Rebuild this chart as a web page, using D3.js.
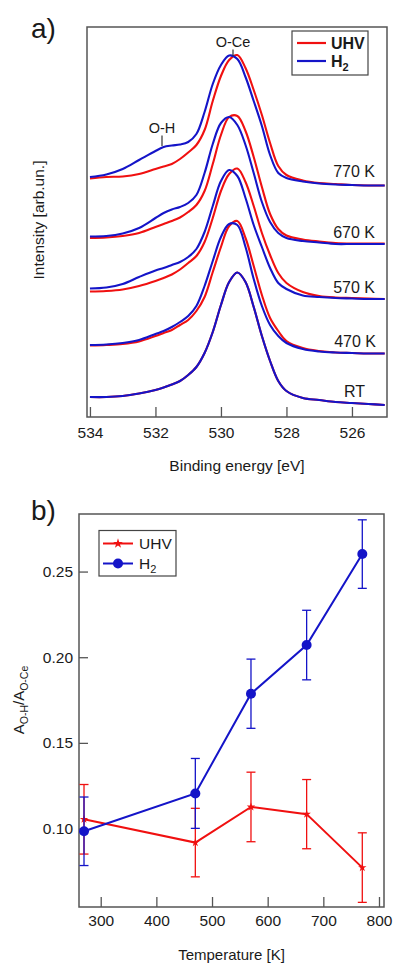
<!DOCTYPE html>
<html><head><meta charset="utf-8">
<script src="https://cdn.jsdelivr.net/npm/d3@7/dist/d3.min.js"></script>
<style>
body{margin:0;background:#fff}
svg{display:block}
text{font-family:Arial,"Liberation Sans",sans-serif;fill:#1a1a1a}
</style>
</head><body><svg id="c" width="393" height="965"></svg>
<script>
// ---------- Panel a) data : XPS O 1s spectra (stacked, arbitrary units) ----------
const energies = [534,533.5,533,532.5,532,531.75,531.5,531.25,531,530.75,530.5,530.25,530,529.75,529.5,529.25,529,528.75,528.5,528.25,528,527.5,527,526.5,526,525.5,525];
const spectrumLabels = ["770 K","670 K","570 K","470 K","RT"];
const uhv770 = [238.5,240,240.5,243,248,250.5,253,258,264.5,272,287,316,341,357,362,349,327,302,274,251,242,236.5,234,233,232,231.5,231.5];
const h2770  = [240,242.5,248,257,266,270,271.5,272.5,275,283,305,333,352,361.5,358,340,316,291,262,244,239,235.5,233.5,232.5,232,231.5,231.5];
const uhv670 = [179,179.5,181,184,190,193,196,199.5,205,212,226,253,282,300,301,286,260,230,203,188,181.5,177.5,175.5,174,173.5,173.5,173.5];
const h2670  = [180.5,181,183.5,189,199,204,207.5,210,214,222,244,273,294,300,292,272,244,215,195,184,179,176,174.5,173,173,173,173];
const uhv570 = [125.5,126,127.5,131,136,139,142.5,147.5,154,161,175,199,226,243,248.5,235,211,184,162,144,134,125,121,119.5,119,118.5,118];
const h2570  = [128.5,129.5,133,140,146.5,149,152,155,160,168,185,211,236,247,241,219,192,170,149,134,128,121.5,120,119,118.5,118,118];
const uhv470 = [71.5,72,73,75.5,81,84,87,92,97,106,120,145,170,191,196,179,151,122,99,86,76,69,66,64.5,64,63.5,63.5];
const h2470  = [72,72.5,74,77,83,86,90,95,101,111,131,156,180,193,192,170,138,111,92,81,74,68,65.5,64.5,64,63.5,63.5];
const uhvRT  = [20,20,21,23.5,27,29.5,32.5,36,42,50,64,85,112,135,144.5,135,110,81,56,36,26,19,17,15,14,13,12];
const h2RT   = [20,20,21,23.5,27,29.5,32.5,36,42,50,64,85,112,135,144.5,135,110,81,56,36,26,19,17,15,14,13,12];
const energyTicks = [534,532,530,528,526];

// ---------- Panel b) data : A(O-H)/A(O-Ce) ratio ----------
const temperatures = [270,470,570,670,770];
const uhvRatio = [0.1054,0.0918,0.1126,0.1084,0.0772];
const uhvErr   = [0.0203,0.0200,0.0203,0.0202,0.0203];
const h2Ratio  = [0.0984,0.1205,0.1787,0.2071,0.2602];
const h2Err    = [0.0200,0.0204,0.0202,0.0203,0.0200];
const tempTicks = [300,400,500,600,700,800];
const ratioTicks = [0.10,0.15,0.20,0.25];

const RED = "#f01010", BLUE = "#1414c8", FRAME = "#555";
const svg = d3.select("#c");

// ================= Panel a =================
const A = {l:87, r:387, t:27, b:417};
const xA = d3.scaleLinear().domain([534.09,524.93]).range([A.l, A.r]);
const yA = d3.scaleLinear().domain([0,390]).range([A.b, A.t]);

const gA = svg.append("g");
const spectra = [
  [uhv770,h2770],[uhv670,h2670],[uhv570,h2570],[uhv470,h2470],[uhvRT,h2RT]
];
const lineA = d3.line().x((d,i)=>xA(energies[i])).y(d=>yA(d)).curve(d3.curveCatmullRom.alpha(0.5));
spectra.forEach(([u,h])=>{
  gA.append("path").attr("d",lineA(u)).attr("fill","none").attr("stroke",RED).attr("stroke-width",2.1);
  gA.append("path").attr("d",lineA(h)).attr("fill","none").attr("stroke",BLUE).attr("stroke-width",2.1);
});

// x axis (ticks inward)
const axA = gA.append("g").attr("transform",`translate(0,${A.b})`)
  .call(d3.axisBottom(xA).tickValues(energyTicks).tickFormat(d3.format("d")).tickSize(-10).tickPadding(10));
axA.select(".domain").remove();
axA.selectAll(".tick line").attr("stroke",FRAME).attr("stroke-width",1.3);
axA.selectAll(".tick text").attr("font-size",15.5).attr("fill","#1a1a1a").attr("font-family","Arial, Liberation Sans, sans-serif");

gA.append("rect").attr("x",A.l).attr("y",A.t).attr("width",A.r-A.l).attr("height",A.b-A.t)
  .attr("fill","none").attr("stroke",FRAME).attr("stroke-width",1.5);

// temperature labels
const labelY = [177,238,293,347,397];
const labelX = [375,375,375,376,365];
spectrumLabels.forEach((s,i)=>{
  gA.append("text").attr("x",labelX[i]).attr("y",labelY[i]).attr("text-anchor","end").attr("font-size",16).text(s);
});

// peak annotations
gA.append("text").attr("x",233).attr("y",47).attr("text-anchor","middle").attr("font-size",14.5).text("O-Ce");
gA.append("line").attr("x1",233).attr("x2",233).attr("y1",49.5).attr("y2",56).attr("stroke","#333").attr("stroke-width",1.2);
gA.append("text").attr("x",162).attr("y",133).attr("text-anchor","middle").attr("font-size",14.5).text("O-H");
gA.append("line").attr("x1",162).attr("x2",162).attr("y1",135.5).attr("y2",146).attr("stroke","#333").attr("stroke-width",1.2);

// legend
gA.append("rect").attr("x",292).attr("y",31).attr("width",76).attr("height",44).attr("fill","#fff").attr("stroke","#444").attr("stroke-width",1.2);
gA.append("line").attr("x1",297).attr("x2",326).attr("y1",43).attr("y2",43).attr("stroke",RED).attr("stroke-width",2.2);
gA.append("line").attr("x1",297).attr("x2",326).attr("y1",61).attr("y2",61).attr("stroke",BLUE).attr("stroke-width",2.2);
gA.append("text").attr("x",331).attr("y",48.5).attr("font-size",16).attr("font-weight","bold").text("UHV");
const tH = gA.append("text").attr("x",331).attr("y",66.5).attr("font-size",16).attr("font-weight","bold");
tH.append("tspan").text("H");
tH.append("tspan").attr("dy",4).attr("font-size",11).text("2");

// axis titles
gA.append("text").attr("x",237).attr("y",471).attr("text-anchor","middle").attr("font-size",15.5).text("Binding energy [eV]");
gA.append("text").attr("transform","translate(43.5,220) rotate(-90)").attr("text-anchor","middle").attr("font-size",15.5).text("Intensity [arb.un.]");
svg.append("text").attr("x",31).attr("y",38).attr("font-size",28).text("a)");

// ================= Panel b =================
const B = {l:79, r:384, t:514, b:907};
const xB = d3.scaleLinear().domain([261,809]).range([B.l,B.r]);
const yB = d3.scaleLinear().domain([0.0542,0.2836]).range([B.b,B.t]);
const gB = svg.append("g");

const axBx = gB.append("g").attr("transform",`translate(0,${B.b})`)
  .call(d3.axisBottom(xB).tickValues(tempTicks).tickFormat(d3.format("d")).tickSize(-10).tickPadding(8));
const axBy = gB.append("g").attr("transform",`translate(${B.l},0)`)
  .call(d3.axisLeft(yB).tickValues(ratioTicks).tickFormat(d3.format(".2f")).tickSize(-9).tickPadding(6));
[axBx,axBy].forEach(a=>{
  a.select(".domain").remove();
  a.selectAll(".tick line").attr("stroke",FRAME).attr("stroke-width",1.3);
  a.selectAll(".tick text").attr("font-size",15.5).attr("fill","#1a1a1a").attr("font-family","Arial, Liberation Sans, sans-serif");
});

gB.append("rect").attr("x",B.l).attr("y",B.t).attr("width",B.r-B.l).attr("height",B.b-B.t)
  .attr("fill","none").attr("stroke",FRAME).attr("stroke-width",1.5);

function series(vals, errs, color, marker){
  const g = gB.append("g");
  const cap = 4.5;
  temperatures.forEach((t,i)=>{
    const x = xB(t), y1 = yB(vals[i]-errs[i]), y2 = yB(vals[i]+errs[i]);
    g.append("line").attr("x1",x).attr("x2",x).attr("y1",y1).attr("y2",y2).attr("stroke",color).attr("stroke-width",1.3);
    g.append("line").attr("x1",x-cap).attr("x2",x+cap).attr("y1",y1).attr("y2",y1).attr("stroke",color).attr("stroke-width",1.3);
    g.append("line").attr("x1",x-cap).attr("x2",x+cap).attr("y1",y2).attr("y2",y2).attr("stroke",color).attr("stroke-width",1.3);
  });
  g.append("path").attr("d",d3.line().x((d,i)=>xB(temperatures[i])).y(d=>yB(d))(vals))
    .attr("fill","none").attr("stroke",color).attr("stroke-width",2);
  temperatures.forEach((t,i)=>{
    if(marker==="circle") g.append("circle").attr("cx",xB(t)).attr("cy",yB(vals[i])).attr("r",5).attr("fill",color);
    else g.append("path").attr("d",d3.symbol().type(d3.symbolStar).size(22)()).attr("transform",`translate(${xB(t)},${yB(vals[i])})`).attr("fill",color);
  });
}
series(uhvRatio, uhvErr, RED, "star");
series(h2Ratio, h2Err, BLUE, "circle");

// legend b
gB.append("rect").attr("x",99).attr("y",530.5).attr("width",77).attr("height",45.5).attr("fill","#fff").attr("stroke","#444").attr("stroke-width",1.2);
gB.append("line").attr("x1",103).attr("x2",133).attr("y1",543.5).attr("y2",543.5).attr("stroke",RED).attr("stroke-width",2);
gB.append("path").attr("d",d3.symbol().type(d3.symbolStar).size(30)()).attr("transform","translate(118,543.5)").attr("fill",RED);
gB.append("line").attr("x1",103).attr("x2",133).attr("y1",563.5).attr("y2",563.5).attr("stroke",BLUE).attr("stroke-width",2);
gB.append("circle").attr("cx",118).attr("cy",563.5).attr("r",5).attr("fill",BLUE);
gB.append("text").attr("x",139).attr("y",549).attr("font-size",15.5).text("UHV");
const tH2 = gB.append("text").attr("x",139).attr("y",568.5).attr("font-size",15.5);
tH2.append("tspan").text("H");
tH2.append("tspan").attr("dy",4).attr("font-size",11).text("2");

// axis titles b
gB.append("text").attr("x",231.5).attr("y",960).attr("text-anchor","middle").attr("font-size",15).text("Temperature [K]");
const yl = gB.append("text").attr("transform","translate(23.5,700) rotate(-90)").attr("text-anchor","middle").attr("font-size",15);
yl.append("tspan").text("A");
yl.append("tspan").attr("dy",4).attr("font-size",10.5).text("O-H");
yl.append("tspan").attr("dy",-4).text("/A");
yl.append("tspan").attr("dy",4).attr("font-size",10.5).text("O-Ce");
svg.append("text").attr("x",31).attr("y",520).attr("font-size",28).text("b)");
</script>
</body></html>
